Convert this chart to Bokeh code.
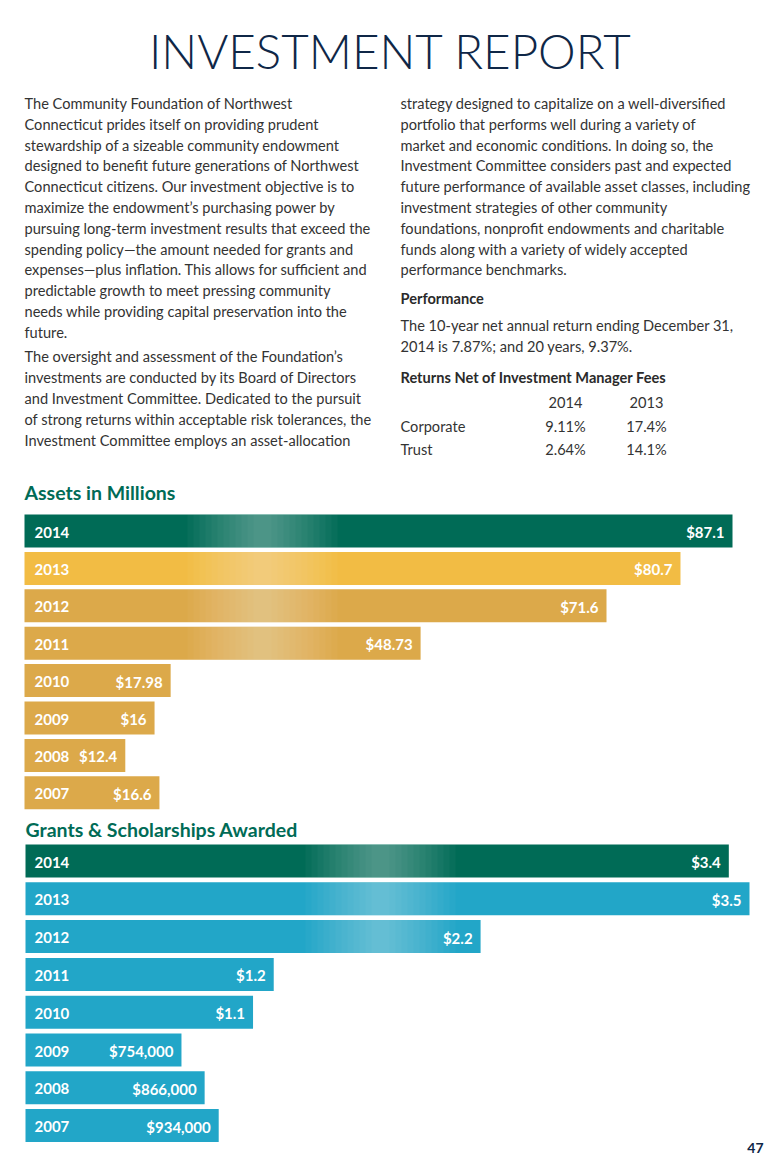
from bokeh.plotting import figure
from bokeh.models import Range1d
from bokeh.layouts import column
from bokeh.core.properties import value
from bokeh.embed import file_html
from bokeh.resources import INLINE

# ---------------- data ----------------
years = ["2014", "2013", "2012", "2011", "2010", "2009", "2008", "2007"]
assets = [87.1, 80.7, 71.6, 48.73, 17.98, 16.0, 12.4, 16.6]            # $ millions
asset_labels = ["$87.1", "$80.7", "$71.6", "$48.73", "$17.98", "$16", "$12.4", "$16.6"]
grants = [3.4, 3.5, 2.2, 1.2, 1.1, 0.754, 0.866, 0.934]                  # $ millions
grant_labels = ["$3.4", "$3.5", "$2.2", "$1.2", "$1.1", "$754,000", "$866,000", "$934,000"]

table_years = ["2014", "2013"]
table_rows = ["Corporate", "Trust"]
corporate = ["9.11%", "17.4%"]
trust = ["2.64%", "14.1%"]

title_text = "INVESTMENT REPORT"
left_par1 = [
    "The Community Foundation of Northwest",
    "Connecticut prides itself on providing prudent",
    "stewardship of a sizeable community endowment",
    "designed to benefit future generations of Northwest",
    "Connecticut citizens. Our investment objective is to",
    "maximize the endowment\u2019s purchasing power by",
    "pursuing long-term investment results that exceed the",
    "spending policy\u2014the amount needed for grants and",
    "expenses\u2014plus inflation. This allows for sufficient and",
    "predictable growth to meet pressing community",
    "needs while providing capital preservation into the",
    "future.",
]
left_par2 = [
    "The oversight and assessment of the Foundation\u2019s",
    "investments are conducted by its Board of Directors",
    "and Investment Committee. Dedicated to the pursuit",
    "of strong returns within acceptable risk tolerances, the",
    "Investment Committee employs an asset-allocation",
]
right_par1 = [
    "strategy designed to capitalize on a well-diversified",
    "portfolio that performs well during a variety of",
    "market and economic conditions. In doing so, the",
    "Investment Committee considers past and expected",
    "future performance of available asset classes, including",
    "investment strategies of other community",
    "foundations, nonprofit endowments and charitable",
    "funds along with a variety of widely accepted",
    "performance benchmarks.",
]
perf_head = "Performance"
perf_lines = [
    "The 10-year net annual return ending December 31,",
    "2014 is 7.87%; and 20 years, 9.37%.",
]
table_head = "Returns Net of Investment Manager Fees"
assets_head = "Assets in Millions"
grants_head = "Grants & Scholarships Awarded"
page_no = "47"

# ---------------- styles ----------------
W = 766
BODY_FONT = value("Lato")
TITLE_FONT = value("Lato Light")
BODY_COLOR = "#333333"
NAVY = "#0f2747"
GREEN = "#006b56"
GOLD_LIGHT = "#f2bc44"
GOLD = "#dca94a"
BLUE = "#22a6c8"


def blank(h, xr, yr):
    p = figure(width=W, height=h, x_range=xr, y_range=yr,
               output_backend="svg", toolbar_location=None,
               x_axis_location=None, y_axis_location=None,
               min_border=0, min_border_left=0, min_border_right=0,
               min_border_top=0, min_border_bottom=0)
    p.outline_line_color = None
    p.grid.visible = False
    p.background_fill_color = "white"
    p.border_fill_color = "white"
    return p


# ---------------- text block ----------------
H1 = 478
pt = blank(H1, Range1d(0, W), Range1d(H1, 0))


def txt(p, xs, ys, texts, size="14.6px", color=BODY_COLOR, font=BODY_FONT,
        style="normal", align="left"):
    p.text(x=xs, y=ys, text=texts, text_font=font, text_font_size=size,
           text_color=color, text_font_style=style, text_align=align,
           text_baseline="middle")


txt(pt, [390], [50], [title_text], size="47.5px", color=NAVY,
    font=TITLE_FONT, align="center")

LH = 20.8
LX, RX = 24, 400
txt(pt, [LX] * len(left_par1), [103 + LH * i for i in range(len(left_par1))], left_par1)
txt(pt, [LX] * len(left_par2), [356 + 21 * i for i in range(len(left_par2))], left_par2)
txt(pt, [RX] * len(right_par1), [103 + LH * i for i in range(len(right_par1))], right_par1)
txt(pt, [RX], [298], [perf_head], style="bold", color="#2a2a2a")
txt(pt, [RX] * 2, [325, 346], perf_lines)
txt(pt, [RX], [377], [table_head], style="bold", color="#2a2a2a")
COLS = [565, 646]
txt(pt, COLS, [402] * 2, table_years, align="center")
txt(pt, [RX, RX], [426, 449], table_rows)
txt(pt, COLS, [426] * 2, corporate, align="center")
txt(pt, COLS, [449] * 2, trust, align="center")


# ---------------- bar sections ----------------
def bar_section(h, vals, labels, colors, bar_x0_px, k, pitch, row0_px,
                head, head_px, streak_center, label_off):
    n = len(vals)
    top = -row0_px / pitch
    bottom = top + h / pitch
    x0 = -bar_x0_px / k
    p = blank(h, Range1d(x0, x0 + W / k), Range1d(bottom, top))
    rows = list(range(n))
    bh = 33.0 / pitch
    p.hbar(y=rows, left=0, right=vals, height=bh, fill_color=colors,
           line_color=None)
    # soft glossy highlight on the bars that extend past it
    idx = [i for i in rows if vals[i] > streak_center + 70 / k]
    for j in range(12):
        w_px = 150 - 12 * j
        p.quad(left=[streak_center - w_px / 2 / k] * len(idx),
               right=[streak_center + w_px / 2 / k] * len(idx),
               top=[i - bh / 2 for i in idx], bottom=[i + bh / 2 for i in idx],
               fill_color="white", fill_alpha=0.03, line_color=None)
    p.text(x=[0] * n, y=rows, text=years, x_offset=label_off, y_offset=1,
           text_font=BODY_FONT, text_font_style="bold", text_font_size="15px",
           text_color="white", text_baseline="middle", text_align="left")
    p.text(x=vals, y=rows, text=labels, x_offset=-8, y_offset=1,
           text_font=BODY_FONT, text_font_style="bold", text_font_size="15px",
           text_color="white", text_baseline="middle", text_align="right")
    p.text(x=[0], y=[top + head_px / pitch], text=[head],
           text_font=BODY_FONT, text_font_style="bold", text_font_size="19.5px",
           text_color=GREEN, text_baseline="middle", text_align="left")
    return p, top, x0


H2 = 339
k_a = (732 - 24) / max(assets)
asset_colors = [GREEN, GOLD_LIGHT] + [GOLD] * (len(assets) - 2)
pa, _, _ = bar_section(H2, assets, asset_labels, asset_colors, 24, k_a,
                       37.4, 530.5 - 478, assets_head, 492 - 478,
                       (262 - 24) / k_a, 10)

H3 = 1166 - 478 - 339
k_g = (749 - 25) / max(grants)
grant_colors = [GREEN] + [BLUE] * (len(grants) - 1)
pg, g_top, g_x0 = bar_section(H3, grants, grant_labels, grant_colors, 25, k_g,
                              37.8, 860.5 - 817, grants_head, 829 - 817,
                              (380 - 25) / k_g, 9)
pg.text(x=[g_x0 + 763 / k_g], y=[g_top + (1147 - 817) / 37.8], text=[page_no],
        text_font=BODY_FONT, text_font_style="bold", text_font_size="14px",
        text_color=NAVY, text_baseline="middle", text_align="right")

layout = column(pt, pa, pg, spacing=0)
open("out.html", "w").write(file_html(layout, INLINE))
